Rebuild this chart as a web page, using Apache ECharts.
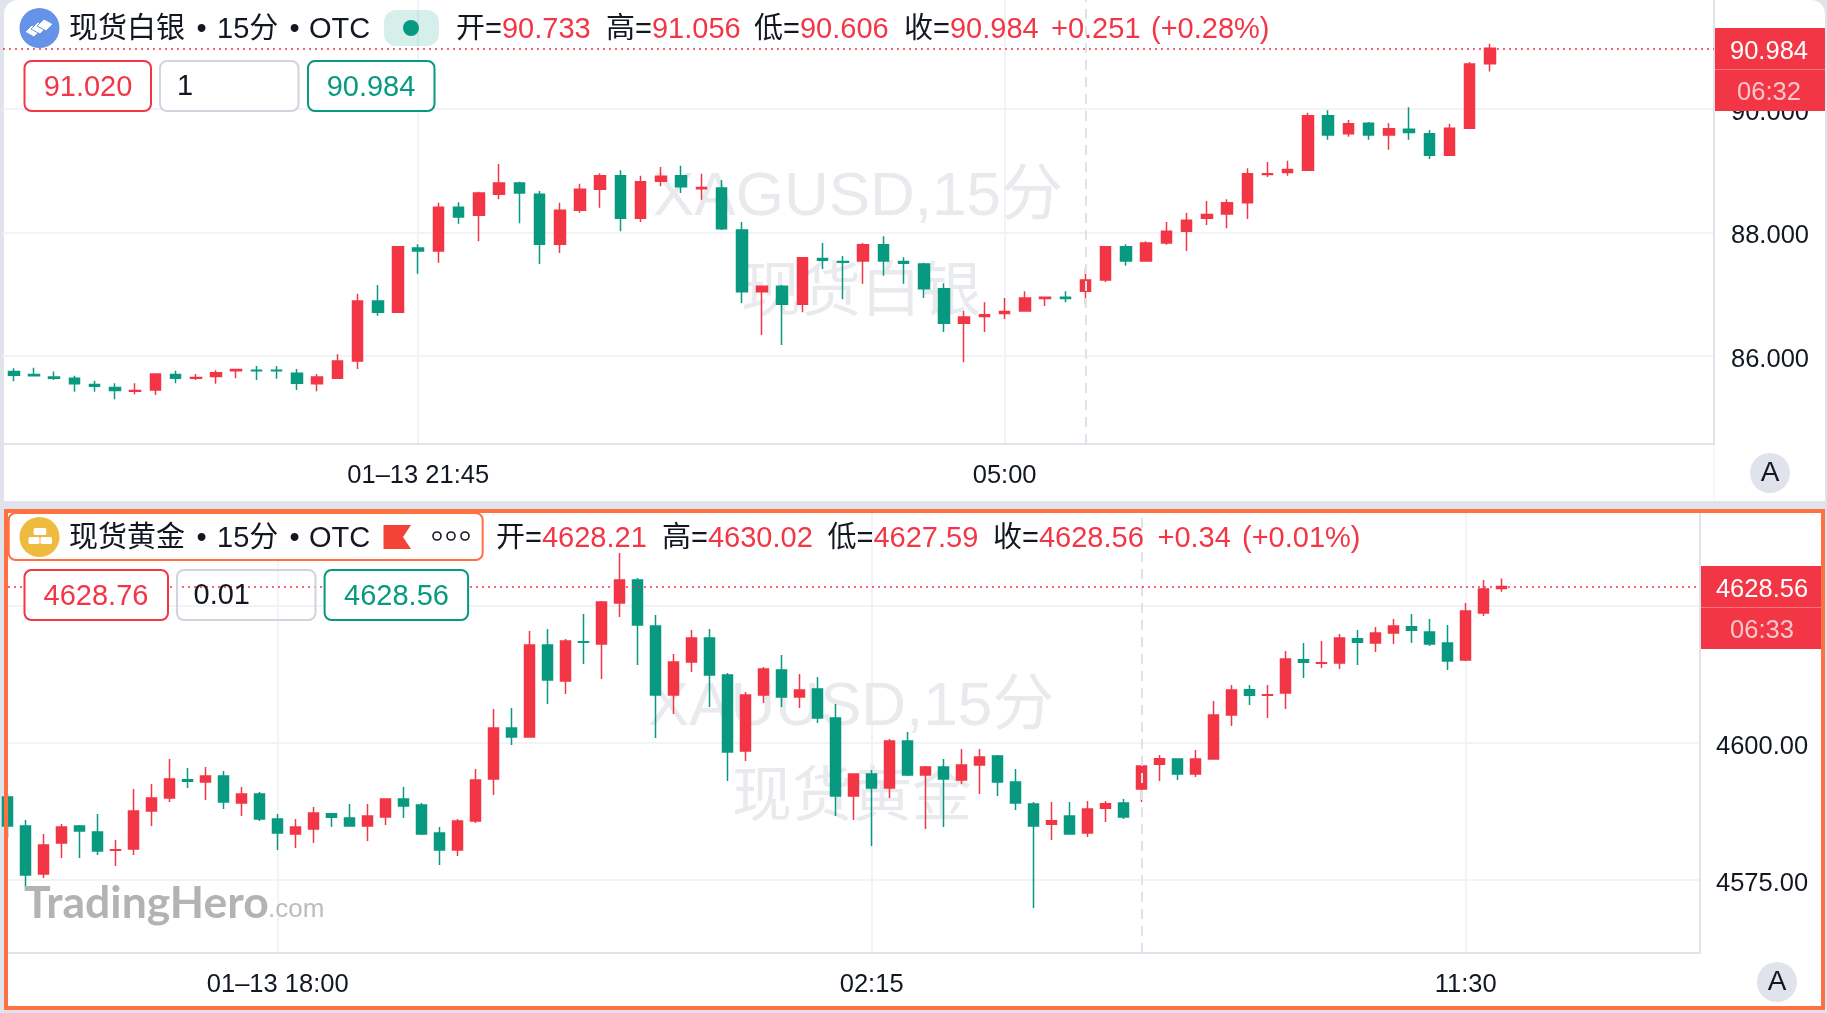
<!DOCTYPE html>
<html>
<head>
<meta charset="utf-8">
<title>现货白银 / 现货黄金</title>
<script src="https://cdn.jsdelivr.net/npm/echarts@6/dist/echarts.min.js"></script>
<style>
  html, body { margin: 0; padding: 0; background: #e0e3eb; }
  #chart { width: 1827px; height: 1013px; }
</style>
</head>
<body>
<div id="chart"></div>
<script>
// 现货白银 15分 K线
const silverOpen = [85.75,85.70,85.66,85.64,85.54,85.49,85.43,85.45,85.70,85.64,85.67,85.76,85.77,85.77,85.72,85.55,85.64,85.92,86.89,86.71,87.75,87.70,88.41,88.28,88.62,88.80,88.62,87.81,88.36,88.70,88.92,88.23,88.83,88.92,88.71,88.72,88.04,87.04,87.13,86.84,87.58,87.53,87.54,87.80,87.53,87.49,87.09,86.53,86.64,86.69,86.73,86.93,86.95,87.05,87.23,87.77,87.54,87.83,88.02,88.23,88.30,88.48,88.94,88.97,89.01,89.89,89.60,89.77,89.58,89.67,89.60,89.25,89.69,90.733];
const silverClose = [85.69,85.68,85.64,85.55,85.51,85.44,85.44,85.71,85.64,85.65,85.73,85.78,85.76,85.76,85.56,85.66,85.92,86.89,86.71,87.77,87.70,88.41,88.25,88.64,88.80,88.64,87.81,88.36,88.70,88.92,88.23,88.82,88.91,88.74,88.73,88.06,87.04,87.13,86.84,87.59,87.55,87.52,87.80,87.54,87.50,87.09,86.53,86.63,86.67,86.72,86.94,86.95,86.93,87.23,87.77,87.54,87.83,88.02,88.20,88.29,88.48,88.95,88.95,89.02,89.89,89.58,89.76,89.58,89.68,89.62,89.25,89.69,90.73,90.984];
const silverLow = [85.59,85.67,85.61,85.42,85.42,85.30,85.38,85.37,85.56,85.61,85.55,85.64,85.61,85.63,85.45,85.43,85.63,85.79,86.65,86.71,87.33,87.51,88.14,87.86,88.54,88.15,87.49,87.67,88.32,88.40,88.02,88.17,88.75,88.64,88.53,88.04,86.86,86.34,86.18,86.71,87.41,86.92,87.17,87.30,87.17,86.94,86.39,85.90,86.39,86.60,86.73,86.81,86.87,86.83,87.20,87.46,87.54,87.80,87.70,88.12,88.07,88.22,88.90,88.92,89.01,89.50,89.55,89.50,89.34,89.50,89.19,89.24,89.68,90.606];
const silverHigh = [85.80,85.81,85.75,85.68,85.60,85.56,85.56,85.72,85.76,85.71,85.77,85.79,85.84,85.84,85.79,85.71,86.03,87.01,87.15,87.78,87.81,88.48,88.49,88.66,89.11,88.82,88.67,88.48,88.79,88.96,89.01,88.92,89.06,89.08,88.95,88.85,88.17,87.13,87.15,87.60,87.83,87.62,87.83,87.94,87.60,87.51,87.18,86.73,86.87,86.94,87.05,86.96,87.05,87.42,87.78,87.81,87.86,88.17,88.32,88.51,88.54,89.04,89.14,89.16,89.94,89.98,89.82,89.79,89.77,90.03,89.66,89.76,90.76,91.056];
const silverTickBars = [20, 49];
const silverTickLabels = ['01–13 21:45', '05:00'];
const silverYTicks = [86, 88, 90];
const silverDayBar = 53;
const silverLast = 90.984;

// 现货黄金 15分 K线
const goldOpen = [4590.14,4584.85,4576.09,4581.75,4584.85,4583.75,4580.43,4580.65,4587.59,4589.96,4593.29,4592.88,4593.97,4589.05,4590.69,4586.13,4583.39,4584.30,4587.08,4586.31,4584.85,4586.49,4589.78,4588.68,4583.57,4580.47,4585.76,4593.43,4602.73,4601.09,4617.88,4611.31,4618.47,4618.06,4625.54,4629.74,4621.35,4608.75,4614.78,4619.16,4612.40,4598.54,4608.75,4613.32,4608.39,4609.85,4604.56,4590.32,4594.34,4591.78,4600.36,4594.16,4595.62,4593.24,4595.98,4597.62,4592.88,4588.86,4585.17,4586.67,4583.57,4588.09,4589.05,4591.60,4596.12,4597.07,4594.34,4597.07,4605.10,4609.71,4608.71,4609.12,4615.18,4614.55,4614.59,4619.02,4618.24,4620.07,4621.21,4620.25,4618.24,4615.14,4623.72,4628.21];
const goldClose = [4584.85,4575.91,4581.38,4584.67,4583.94,4580.29,4580.51,4587.59,4589.96,4593.43,4593.02,4593.97,4589.23,4590.69,4586.13,4583.57,4584.67,4587.22,4586.45,4584.85,4586.67,4589.78,4588.50,4583.39,4580.47,4585.76,4593.24,4602.73,4601.09,4617.88,4611.49,4618.61,4618.38,4625.73,4629.74,4621.53,4608.75,4614.78,4619.16,4612.40,4598.35,4608.75,4613.50,4608.39,4609.67,4604.56,4590.32,4594.34,4591.78,4600.36,4594.16,4595.62,4593.43,4595.98,4597.44,4592.88,4589.05,4584.85,4585.80,4583.39,4587.95,4588.91,4586.49,4595.80,4597.12,4594.34,4597.07,4605.10,4609.67,4608.71,4608.80,4615.32,4614.73,4614.64,4619.16,4618.38,4620.07,4621.35,4620.57,4618.06,4614.96,4624.08,4628.10,4628.56];
const goldLow = [4582.66,4573.72,4575.36,4579.01,4579.01,4579.56,4577.55,4579.56,4584.85,4589.23,4591.78,4589.59,4587.95,4586.67,4585.76,4580.47,4580.83,4581.75,4584.67,4584.85,4582.11,4585.03,4586.31,4583.21,4577.73,4579.37,4585.40,4590.51,4599.63,4601.09,4607.11,4608.94,4614.41,4611.67,4622.99,4614.23,4600.91,4605.29,4612.95,4606.56,4593.06,4596.71,4607.29,4606.56,4606.38,4603.64,4586.67,4585.94,4581.20,4589.96,4593.97,4584.30,4584.67,4592.51,4590.69,4590.32,4587.77,4569.88,4582.29,4583.39,4582.84,4585.58,4586.13,4589.23,4593.06,4593.24,4593.79,4597.07,4603.10,4606.93,4604.56,4606.20,4611.86,4613.68,4613.50,4614.23,4616.60,4618.06,4618.24,4617.70,4613.32,4614.96,4623.17,4627.59];
const goldHigh = [4590.69,4585.94,4583.39,4585.21,4585.03,4587.04,4582.29,4591.60,4592.51,4597.07,4595.43,4595.62,4594.89,4591.97,4591.05,4587.04,4586.13,4588.32,4587.22,4588.86,4588.86,4589.78,4591.97,4589.05,4584.67,4586.13,4595.25,4606.20,4606.38,4620.43,4620.80,4618.97,4623.54,4625.91,4634.67,4630.11,4623.35,4616.24,4620.62,4620.80,4612.77,4609.30,4613.86,4616.05,4612.59,4612.04,4607.11,4594.34,4595.07,4600.72,4602.00,4595.80,4597.07,4598.90,4598.90,4597.81,4595.25,4589.23,4589.23,4589.23,4589.41,4589.41,4589.78,4595.98,4597.81,4597.07,4598.72,4607.66,4610.58,4610.58,4610.58,4616.78,4618.24,4618.61,4619.89,4620.62,4621.16,4622.62,4623.54,4622.62,4621.53,4625.54,4629.74,4630.02];
const goldTickBars = [15, 48, 81];
const goldTickLabels = ['01–13 18:00', '02:15', '11:30'];
const goldYTicks = [4575, 4600, 4625];
const goldDayBar = 63;
const goldLast = 4628.56;

const UP = '#F23645';
const DOWN = '#089981';
const INK = '#131722';
const AXIS = '#e0e3eb';
const GRID = '#f2f3f6';
const ORANGE = '#ff7043';
const BLUE = '#6593e8';
const FONT = '"Liberation Sans","Noto Sans CJK SC",sans-serif';

function candles(open, close, low, high) {
  return open.map((o, i) => [i, o, close[i], low[i], high[i]]);
}

function xAxis(gridIndex, min, max, bars, labels) {
  return {
    type: 'value',
    gridIndex,
    min,
    max,
    scale: true,
    axisLine: { show: true, onZero: false, lineStyle: { color: AXIS, width: 2 } },
    axisTick: { show: false, customValues: bars },
    axisLabel: {
      customValues: bars,
      formatter: v => labels[bars.indexOf(v)],
      color: INK,
      fontFamily: FONT,
      fontSize: 25.5,
      margin: 19,
      showMinLabel: true,
      showMaxLabel: true
    },
    splitLine: { show: true, lineStyle: { color: GRID, width: 2 } }
  };
}

function yAxis(gridIndex, min, max, ticks, digits, margin) {
  return {
    type: 'value',
    gridIndex,
    position: 'right',
    min,
    max,
    scale: true,
    axisLine: { show: true, onZero: false, lineStyle: { color: AXIS, width: 2 } },
    axisTick: { show: false, customValues: ticks },
    axisLabel: {
      customValues: ticks,
      formatter: v => '{a|' + v.toFixed(digits) + '}',
      margin,
      // 标签比刻度低一点，和原图对齐
      rich: {
        a: { color: INK, fontFamily: FONT, fontSize: 25.5, lineHeight: 33, verticalAlign: 'bottom' }
      }
    },
    splitLine: { show: true, lineStyle: { color: GRID, width: 2 } }
  };
}

function series(index, data, last, dayBar) {
  return {
    type: 'candlestick',
    xAxisIndex: index,
    yAxisIndex: index,
    data,
    encode: { x: 0, y: [1, 2, 3, 4] },
    barWidth: 11,
    itemStyle: { color: UP, color0: DOWN, borderColor: UP, borderColor0: DOWN, borderWidth: 1.5 },
    markLine: {
      silent: true,
      symbol: 'none',
      animation: false,
      label: { show: false },
      data: [
        { xAxis: dayBar, lineStyle: { color: '#dfe2ea', type: [10, 7], width: 2 } },
        { yAxis: last, lineStyle: { color: UP, type: [2, 4], width: 1.5 } }
      ]
    }
  };
}

// 下面全是界面上的装饰：标题、OHLC、买卖框、水印
function text(str, x, y, size, fill, extra) {
  return Object.assign({
    type: 'text',
    z: 50,
    silent: true,
    style: {
      text: str, x, y, fill,
      font: size + 'px ' + FONT,
      textAlign: 'left',
      textVerticalAlign: 'middle'
    }
  }, extra);
}

function centered(str, x, y, size, fill, z) {
  const t = text(str, x, y, size, fill, { z: z || 50 });
  t.style.textAlign = 'center';
  return t;
}

function ohlc(key, value, x, y) {
  const t = text('{k|' + key + '}{v|' + value + '}', x, y, 29, INK);
  t.style.rich = {
    k: { fill: INK, fontSize: 29, fontFamily: FONT },
    v: { fill: UP, fontSize: 29, fontFamily: FONT }
  };
  return t;
}

function title(name, y) {
  return [
    text(name, 69, y, 29, INK),
    centered('•', 201.7, y, 29, INK),
    text('15分', 217, y, 29, INK),
    centered('•', 294.6, y, 29, INK),
    text('OTC', 309, y, 29, INK)
  ];
}

function box(x, y, w, h, stroke, fill, z) {
  return {
    type: 'rect', z: z || 45, silent: true,
    shape: { x, y, width: w, height: h, r: 7 },
    style: { fill: fill, stroke, lineWidth: 2 }
  };
}

function rect(x, y, w, h, fill, z, r) {
  return {
    type: 'rect', z, silent: true,
    shape: { x, y, width: w, height: h, r: r || 0 },
    style: { fill }
  };
}

function circle(cx, cy, r, fill, z, stroke) {
  return {
    type: 'circle', z: z || 46, silent: true,
    shape: { cx, cy, r },
    style: { fill, stroke: stroke || null, lineWidth: stroke ? 1.6 : 0 }
  };
}

function poly(points, fill, z, stroke) {
  return {
    type: 'polygon', z: z || 47, silent: true,
    shape: { points },
    style: { fill, stroke: stroke || null, lineWidth: stroke ? 1 : 0 }
  };
}

function diamond(cx, cy) {
  return poly([[cx - 8, cy + 1], [cx - 1, cy - 6], [cx + 8, cy - 1], [cx + 1, cy + 6]], '#ffffff', 47, BLUE);
}

const graphics = [
  // 面板底色
  rect(4, 0, 1821, 501, '#ffffff', -10, [14, 14, 0, 0]),
  rect(4, 509, 1821, 501, '#ffffff', -10),
  rect(1713, 445, 2, 55, '#f6f7f9', -5),

  // 水印
  centered('XAGUSD,15分', 858, 198, 62, '#e9eaed', 1),
  centered('现货白银', 861, 294, 60, '#e9eaed', 1),
  centered('XAUUSD,15分', 851, 708, 62, '#e9eaed', 1),
  centered('现货黄金', 852, 799, 60, '#e9eaed', 1),

  // 白银标题
  circle(39.5, 28, 20, BLUE),
  diamond(33, 31),
  diamond(39, 28),
  diamond(45, 25),
  ...title('现货白银', 30),
  rect(384, 10, 55, 36, 'rgba(8,153,129,0.16)', 46, 12),
  circle(411, 28, 8, DOWN, 47),
  ohlc('开=', '90.733', 456, 30),
  ohlc('高=', '91.056', 606, 30),
  ohlc('低=', '90.606', 754, 30),
  ohlc('收=', '90.984', 904, 30),
  text('+0.251', 1051, 30, 29, UP),
  text('(+0.28%)', 1151, 30, 29, UP),

  // 白银买卖框
  box(24.5, 61, 126.5, 50, UP, '#ffffff'),
  centered('91.020', 88, 87.5, 29, UP),
  box(160, 61, 138.5, 50, '#d1d4dc', '#ffffff'),
  text('1', 177, 86.5, 29, INK),
  box(308, 61, 126.5, 50, DOWN, '#ffffff'),
  centered('90.984', 371, 87.5, 29, DOWN),

  // 白银价格标签
  rect(1715, 28, 110, 83, UP, 60),
  rect(1715, 69, 110, 1, 'rgba(255,255,255,0.3)', 61),
  centered('90.984', 1769, 52, 25.5, '#ffffff', 62),
  centered('06:32', 1769, 93, 25.5, 'rgba(255,255,255,0.72)', 62),
  circle(1770, 473, 20, AXIS, 46),
  centered('A', 1770, 473, 28, INK, 47),

  // 黄金标题
  box(8.7, 513, 474, 47, ORANGE, '#ffffff', 44),
  circle(39.5, 537, 20, '#efbb3e'),
  rect(33.6, 528, 12.7, 7, '#ffffff', 47, 1.5),
  rect(28.5, 537, 11, 7, '#ffffff', 47, 1.5),
  rect(40.5, 537, 11.5, 7, '#ffffff', 47, 1.5),
  ...title('现货黄金', 539),
  poly([[383.5, 525], [411, 525], [403, 537], [411, 549], [383.5, 549]], '#f44336'),
  circle(437, 536, 4, 'none', 47, INK),
  circle(451, 536, 4, 'none', 47, INK),
  circle(465, 536, 4, 'none', 47, INK),
  ohlc('开=', '4628.21', 496, 539),
  ohlc('高=', '4630.02', 662, 539),
  ohlc('低=', '4627.59', 827.5, 539),
  ohlc('收=', '4628.56', 993, 539),
  text('+0.34', 1157.5, 539, 29, UP),
  text('(+0.01%)', 1242, 539, 29, UP),

  // 黄金买卖框，中间那个是透明的
  box(24.5, 570, 143.5, 50, UP, '#ffffff'),
  centered('4628.76', 96, 596.5, 29, UP),
  box(177, 570, 138.5, 50, '#d1d4dc', 'none'),
  text('0.01', 193.5, 596, 29, INK),
  box(324.6, 570, 143.5, 50, DOWN, '#ffffff'),
  centered('4628.56', 396.5, 596.5, 29, DOWN),

  // 黄金价格标签
  rect(1701, 566, 120, 83, UP, 60),
  rect(1701, 607, 120, 1, 'rgba(255,255,255,0.3)', 61),
  centered('4628.56', 1762, 589.5, 25.5, '#ffffff', 62),
  centered('06:33', 1762, 631, 25.5, 'rgba(255,255,255,0.72)', 62),
  circle(1777, 982, 20, AXIS, 46),
  centered('A', 1777, 982, 28, INK, 47),

  // 站点水印
  {
    type: 'text', z: 50, silent: true,
    style: { text: 'TradingHero', x: 24, y: 904, fill: '#b3b3b3', font: 'bold 44.5px Lato,sans-serif', textVerticalAlign: 'middle' }
  },
  text('.com', 268, 910, 26, '#bcbcbc'),

  // 黄金面板的橙色选中框
  {
    type: 'rect', z: 70, silent: true,
    shape: { x: 6, y: 511, width: 1817, height: 497 },
    style: { fill: 'none', stroke: ORANGE, lineWidth: 4 }
  }
];

const chart = echarts.init(document.getElementById('chart'));
chart.setOption({
  animation: false,
  backgroundColor: 'transparent',
  grid: [
    { left: 3, top: 0, width: 1711, height: 444 },
    { left: 8, top: 513, width: 1692, height: 440 }
  ],
  xAxis: [
    xAxis(0, -0.534, 84.08, silverTickBars, silverTickLabels),
    xAxis(1, 0.017, 94.02, goldTickBars, goldTickLabels)
  ],
  yAxis: [
    yAxis(0, 84.575, 91.765, silverYTicks, 3, 17),
    yAxis(1, 4561.68, 4641.97, goldYTicks, 2, 16)
  ],
  series: [
    series(0, candles(silverOpen, silverClose, silverLow, silverHigh), silverLast, silverDayBar),
    series(1, candles(goldOpen, goldClose, goldLow, goldHigh), goldLast, goldDayBar)
  ],
  graphic: graphics
});
</script>
</body>
</html>
